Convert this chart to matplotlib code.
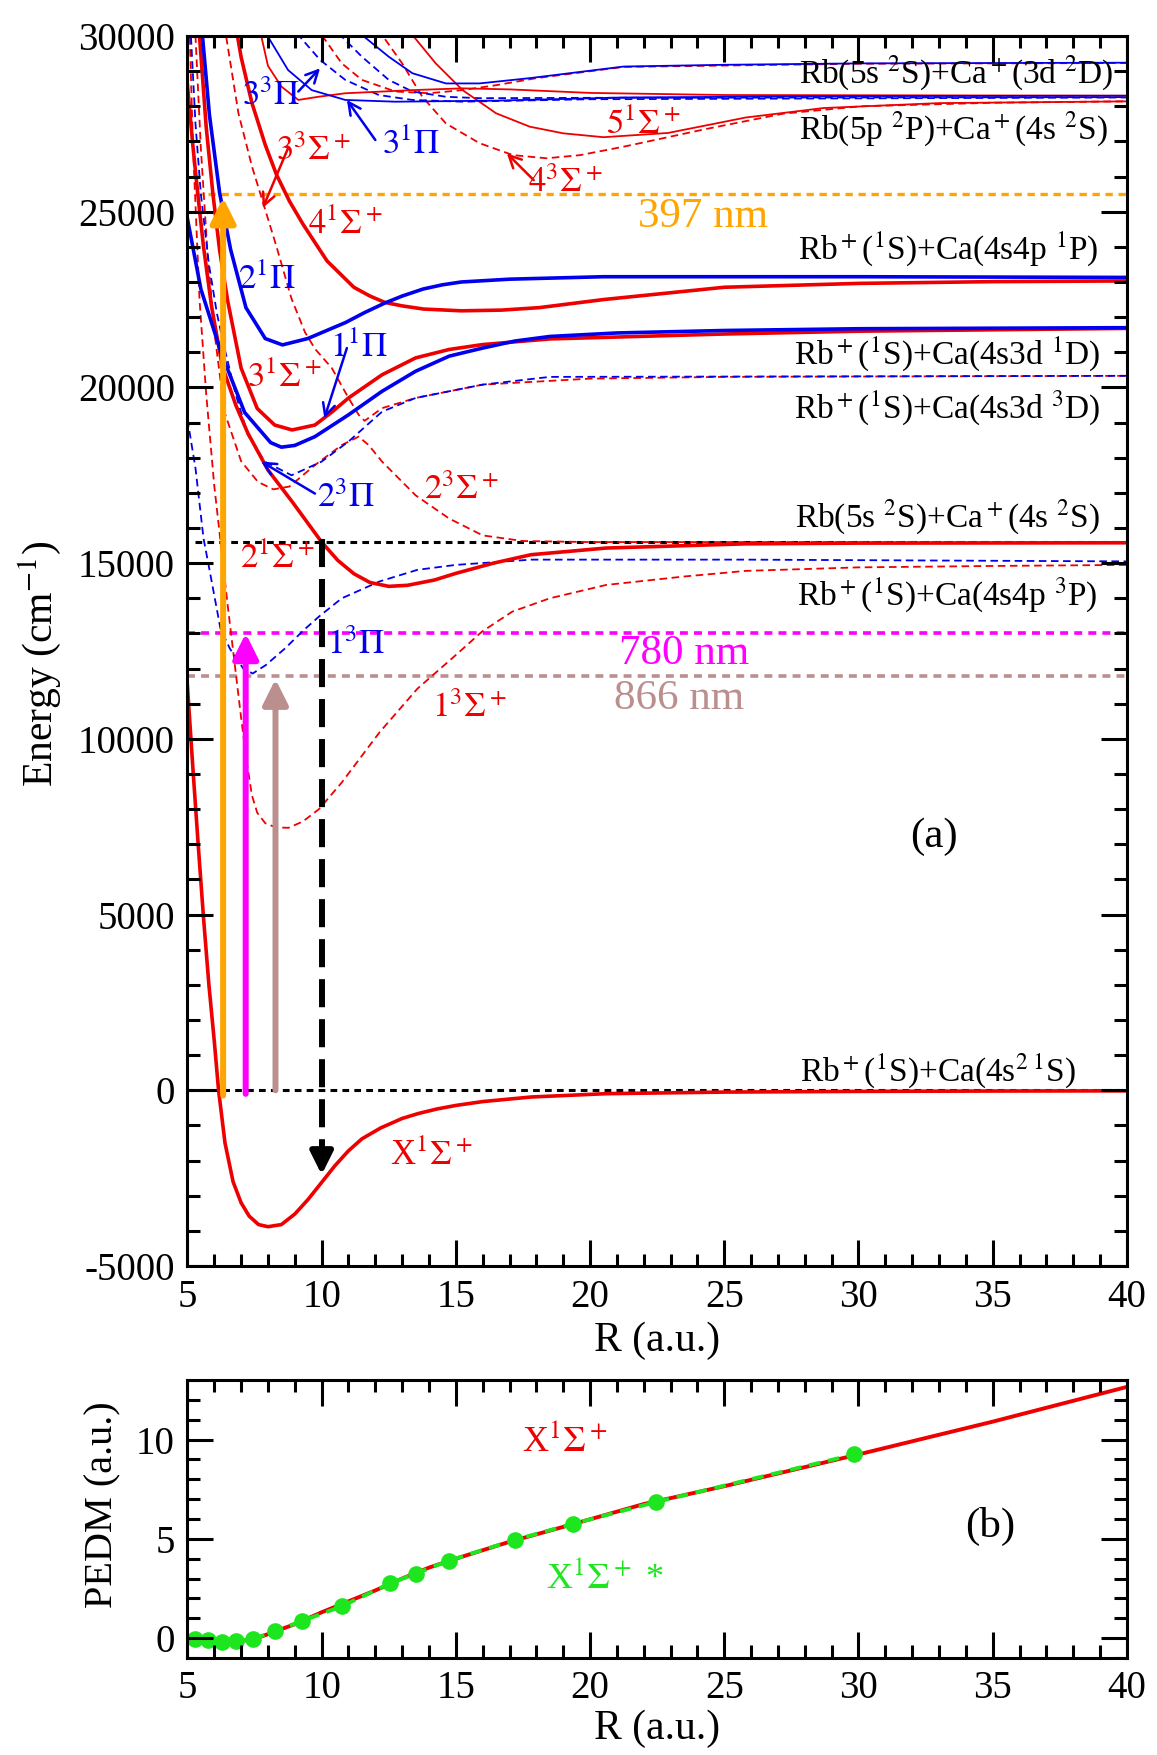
import matplotlib
matplotlib.use('Agg')
from matplotlib import pyplot as plt
from matplotlib.ticker import MultipleLocator

plt.rcParams['font.family'] = ['Liberation Serif', 'DejaVu Serif']
plt.rcParams['mathtext.fontset'] = 'stix'
plt.rcParams['axes.unicode_minus'] = False

# ---- potential energy curves (R in a.u., E in cm-1) ----
# singlet sigma (red solid)
R_X1S = [5.0, 5.2, 5.4, 5.6, 5.8, 6.0, 6.16, 6.4, 6.7, 7.0, 7.3, 7.65, 8.0, 8.5, 9.0, 9.5, 10.0,
         10.5, 11.0, 11.5, 12.2, 13.0, 13.6, 14.3, 15.0, 16.0, 17.8, 20.6, 25.0, 30.0, 35.0, 40.0]
E_X1S = [11500, 9200, 7000, 4900, 3000, 1400, 0, -1500, -2600, -3200, -3580, -3820, -3880, -3820,
         -3520, -3100, -2620, -2140, -1720, -1380, -1070, -800, -660, -530, -430, -320, -190, -95,
         -50, -30, -20, -15]
R_21S = [5.0, 5.2, 5.4, 5.6, 5.9, 6.3, 6.8, 7.25, 8.0, 8.9, 10.0, 10.6, 11.2, 11.8, 12.5, 13.2, 14.2,
         15.0, 16.4, 17.8, 20.6, 25.8, 30.0, 40.0]
E_21S = [28600, 26900, 25400, 24000, 22300, 20600, 19500, 18700, 17650, 16750, 15600, 15080, 14700,
         14450, 14340, 14370, 14520, 14710, 15000, 15240, 15430, 15550, 15570, 15580]
R_31S = [5.35, 5.45, 5.7, 5.95, 6.2, 6.5, 7.0, 7.6, 8.25, 8.9, 9.75, 10.4, 11.0, 12.25, 13.5, 14.75,
         16.0, 18.5, 25.0, 30.0, 40.0]
E_31S = [31500, 30000, 27400, 25500, 23900, 22460, 20550, 19400, 18930, 18790, 18930, 19310, 19700,
         20360, 20840, 21080, 21220, 21380, 21520, 21600, 21680]
R_41S = [6.75, 7.0, 7.4, 7.9, 8.32, 8.8, 9.3, 10.2, 11.2, 11.8, 12.35, 13.0, 13.8, 15.2, 16.7, 18.1,
         20.5, 25.0, 30.0, 35.0, 40.0]
E_41S = [30500, 29400, 28100, 26900, 26050, 25300, 24650, 23600, 22850, 22600, 22420, 22320, 22230,
         22180, 22200, 22270, 22500, 22850, 22960, 23010, 23030]
R_51S = [13.1, 13.38, 14.25, 15.25, 16.5, 17.75, 19.0, 20.5, 22.9, 25.8, 28.7, 33.0, 40.0]
E_51S = [30400, 30030, 29220, 28460, 27800, 27420, 27230, 27120, 27240, 27680, 27950, 28090, 28140]
R_61S = [7.6, 7.75, 8.0, 8.5, 9.13, 9.88, 10.88, 13.4, 15.25, 17.0, 20.0, 25.0, 40.0]
E_61S = [30600, 30000, 29150, 28560, 28180, 28270, 28370, 28460, 28510, 28480, 28380, 28320, 28300]

# triplet sigma (red dashed)
R_13S = [5.05, 5.2, 5.45, 5.7, 6.0, 6.5, 7.0, 7.2, 7.4, 7.6, 7.9, 8.3, 8.77, 9.3, 9.9, 10.75, 12.16,
         13.57, 14.99, 15.97, 17.1, 18.5, 20.6, 23.5, 25.8, 30.0, 35.0, 40.0]
E_13S = [31000, 27000, 22500, 19800, 17200, 13800, 10600, 9400, 8400, 7900, 7600, 7480, 7470, 7650,
         8000, 8760, 10190, 11430, 12380, 13050, 13620, 14000, 14380, 14620, 14780, 14880, 14920, 14950]
R_23S = [5.2, 5.3, 5.5, 5.75, 6.0, 6.38, 7.0, 7.63, 8.2, 8.8, 9.75, 10.75, 11.38, 11.75, 12.25, 13.5,
         14.75, 16.0, 17.5, 20.0, 40.0]
E_23S = [31600, 30000, 26800, 23800, 21600, 19300, 17900, 17310, 17100, 17180, 17790, 18360, 18600,
         18360, 17890, 16930, 16270, 15790, 15630, 15600, 15600]
R_33S = [6.3, 6.44, 6.9, 7.4, 7.8, 8.32, 8.88, 9.38, 9.75, 10.38, 11.0, 11.38, 11.6, 12.25, 13.5,
         16.0, 20.0, 25.0, 40.0]
E_33S = [31000, 30000, 27800, 26300, 25300, 24000, 22520, 21570, 21100, 20550, 19700, 19220, 19050,
         19410, 19700, 20080, 20250, 20300, 20330]
R_43S = [11.9, 12.25, 13.0, 13.75, 14.63, 15.88, 17.13, 18.38, 19.63, 21.25, 24.3, 27.2, 30.1, 35.0, 40.0]
E_43S = [30500, 30030, 29220, 28270, 27510, 26950, 26610, 26520, 26610, 26850, 27350, 27790, 28000,
         28100, 28140]
R_53S = [9.75, 10.0, 10.75, 11.5, 12.75, 14.0, 15.25, 16.5, 18.0, 21.25, 30.0, 40.0]
E_53S = [30300, 30030, 29220, 28750, 28420, 28370, 28460, 28600, 28800, 29120, 29210, 29230]

# singlet pi (blue solid)
R_11P = [5.0, 5.5, 6.25, 7.13, 8.1, 8.5, 9.0, 9.75, 11.0, 12.25, 13.5, 14.75, 16.0, 17.2, 18.5, 21.0,
         25.0, 30.0, 40.0]
E_11P = [24800, 22800, 21000, 19290, 18430, 18300, 18350, 18600, 19220, 19890, 20460, 20890, 21120,
         21320, 21450, 21550, 21620, 21670, 21700]
R_21P = [5.45, 5.56, 5.82, 6.2, 6.61, 7.18, 7.9, 8.54, 9.48, 10.9, 11.6, 12.35, 13.0, 13.78, 14.5,
         15.2, 17.0, 20.5, 30.0, 40.0]
E_21P = [31000, 30000, 27750, 25530, 23920, 22270, 21390, 21210, 21390, 21850, 22130, 22400, 22600,
         22800, 22920, 23000, 23080, 23150, 23150, 23130]
R_31P = [7.8, 8.0, 8.75, 9.63, 10.88, 12.75, 16.5, 21.25, 30.0, 40.0]
E_31P = [30300, 29980, 29030, 28460, 28180, 28130, 28160, 28250, 28290, 28300]
R_41P = [11.25, 11.5, 12.5, 13.38, 14.63, 15.88, 17.75, 21.25, 25.0, 30.0, 40.0]
E_41P = [30300, 30030, 29410, 28940, 28650, 28650, 28800, 29130, 29180, 29220, 29240]

# triplet pi (blue dashed)
R_13P = [5.0, 5.3, 5.6, 5.81, 6.23, 6.58, 7.08, 7.43, 7.92, 8.63, 9.34, 9.9, 10.75, 12.16, 13.57,
         14.99, 17.8, 25.8, 40.0]
E_13P = [19100, 17700, 15700, 14860, 13140, 12570, 12000, 11860, 12100, 12570, 13100, 13480, 14000,
         14480, 14810, 14950, 15100, 15100, 15050]
R_23P = [5.05, 5.13, 5.3, 5.5, 5.8, 6.1, 6.38, 6.8, 7.25, 7.88, 8.88, 10.0, 11.0, 12.25, 13.5, 16.0,
         18.5, 40.0]
E_23P = [31000, 30000, 27500, 25500, 23500, 22100, 21120, 19800, 18650, 17890, 17500, 17890, 18460,
         19310, 19700, 20080, 20300, 20330]
R_33P = [8.9, 9.13, 9.94, 10.88, 12.13, 13.38, 15.25, 20.0, 40.0]
E_33P = [30400, 30030, 29320, 28750, 28320, 28180, 28130, 28200, 28250]
R_43P = [10.45, 10.69, 11.5, 12.5, 13.38, 14.63, 15.88, 20.0, 40.0]
E_43P = [30400, 30030, 29410, 28750, 28420, 28270, 28230, 28240, 28260]

# horizontal reference levels and laser transitions
E_ion = 15600
E_397 = 25500
E_780 = 13000
E_866 = 11800
laser_R = [6.33, 7.17, 8.28]
laser_top = [25400, 13000, 11700]
laser_bottom = [-150, -100, 0]
laser_names = ['397 nm', '780 nm', '866 nm']
laser_colors = ['#ffa500', '#ff00ff', '#bc8f8f']
dump_R = 10.0
dump_tip = -2400

asym_labels = [r'Rb(5s $^2$S)+Ca$^+$(3d $^2$D)', r'Rb(5p $^2$P)+Ca$^+$(4s $^2$S)',
               r'Rb$^+$($^1$S)+Ca(4s4p $^1$P)', r'Rb$^+$($^1$S)+Ca(4s3d $^1$D)',
               r'Rb$^+$($^1$S)+Ca(4s3d $^3$D)', r'Rb(5s $^2$S)+Ca$^+$(4s $^2$S)',
               r'Rb$^+$($^1$S)+Ca(4s4p $^3$P)', r'Rb$^+$($^1$S)+Ca(4s$^{2\ 1}$S)']
asym_E = [28930, 27350, 23960, 20960, 19430, 16310, 14090, 560]
asym_right = [39.5, 39.3, 38.95, 39.0, 39.0, 39.0, 38.9, 38.1]

# ---- permanent electric dipole moment (a.u.) ----
R_pedm = [5.0, 5.5, 6.0, 6.5, 7.0, 7.5, 8.0, 8.5, 9.0, 9.5, 10.0, 11.0, 12.0, 13.0, 14.0, 15.0, 17.0,
          19.0, 22.0, 25.0, 30.0, 35.0, 40.0]
D_pedm = [0.0, -0.08, -0.15, -0.2, -0.15, -0.05, 0.2, 0.45, 0.7, 1.0, 1.3, 1.85, 2.4, 3.0, 3.55, 4.0,
          4.85, 5.6, 6.75, 7.65, 9.25, 10.9, 12.65]
R_star = [5.3, 5.75, 6.3, 6.8, 7.45, 8.25, 9.25, 10.75, 12.55, 13.5, 14.75, 17.2, 19.35, 22.45, 29.85]
D_star = [-0.05, -0.1, -0.22, -0.15, -0.05, 0.35, 0.85, 1.6, 2.75, 3.25, 3.9, 4.95, 5.75, 6.85, 9.25]

RED = '#ee0000'
BLUE = '#0000ee'
GREEN = '#1ee61e'
THICK = 2.6
THIN = 1.3
DASH = (4.2, 2.5)
DOT = (2.2, 1.7)

FIG_W, FIG_H = 1157, 1755
POS_A = [0.162, 0.2786, 0.812, 0.7009]
POS_B = [0.162, 0.0553, 0.812, 0.1584]


def add_inward_ticks(a, pos, xmaj, xmin, ymaj, ymin):
    # tick marks on all four sides, drawn as short lines pointing inwards
    w_px = pos[2] * FIG_W
    h_px = pos[3] * FIG_H
    tx = a.get_xaxis_transform()
    ty = a.get_yaxis_transform()
    for ticks, ln in ((xmaj, 26.0), (xmin, 12.5)):
        f = ln / h_px
        a.vlines(ticks, 0, f, transform=tx, colors='black', lw=2.2, zorder=4)
        a.vlines(ticks, 1 - f, 1, transform=tx, colors='black', lw=2.2, zorder=4)
    for ticks, ln in ((ymaj, 26.0), (ymin, 12.5)):
        f = ln / w_px
        a.hlines(ticks, 0, f, transform=ty, colors='black', lw=2.2, zorder=4)
        a.hlines(ticks, 1 - f, 1, transform=ty, colors='black', lw=2.2, zorder=4)


fig = plt.figure(figsize=(11.57, 17.55), dpi=100)
ax = fig.add_axes(POS_A)
ax2 = fig.add_axes(POS_B)

ax.set_xlim(5, 40)
ax.set_ylim(-5000, 30000)
ax.xaxis.set_major_locator(MultipleLocator(5))
ax.yaxis.set_major_locator(MultipleLocator(5000))
ax2.set_xlim(5, 40)
ax2.set_ylim(-1, 13)
ax2.xaxis.set_major_locator(MultipleLocator(5))
ax2.yaxis.set_major_locator(MultipleLocator(5))
for a in (ax, ax2):
    for s in a.spines.values():
        s.set_linewidth(2.2)
        s.set_zorder(5)
    a.tick_params(axis='both', which='major', direction='in', length=0, labelsize=28, pad=9)

x_major = list(range(5, 41, 5))
x_minor = [v for v in range(6, 40) if v % 5 != 0]
add_inward_ticks(ax, POS_A, x_major, x_minor, list(range(-5000, 30001, 5000)),
                 [v for v in range(-4000, 30000, 1000) if v % 5000 != 0])
add_inward_ticks(ax2, POS_B, x_major, x_minor, [0, 5, 10],
                 [v for v in range(-1, 14) if v % 5 != 0])

# reference levels (dotted)
ax.plot([5, 40], [0, 0], color='black', lw=2.2, dashes=DOT)
ax.plot([5.3, 40], [E_ion, E_ion], color='black', lw=2.2, dashes=DOT)
ax.plot([5.3, 40], [E_397, E_397], color=laser_colors[0], lw=2.4, dashes=DOT)
ax.plot([5, 40], [E_780, E_780], color=laser_colors[1], lw=2.6, dashes=DOT)
ax.plot([5, 40], [E_866, E_866], color=laser_colors[2], lw=2.6, dashes=DOT)

# triplet curves (dashed)
for rr, ee in [(R_13S, E_13S), (R_23S, E_23S), (R_33S, E_33S), (R_43S, E_43S), (R_53S, E_53S)]:
    ax.plot(rr, ee, color=RED, lw=THIN, dashes=DASH)
for rr, ee in [(R_13P, E_13P), (R_23P, E_23P), (R_33P, E_33P), (R_43P, E_43P)]:
    ax.plot(rr, ee, color=BLUE, lw=THIN, dashes=DASH)

# singlet curves (solid)
ax.plot(R_61S, E_61S, color=RED, lw=THIN)
ax.plot(R_51S, E_51S, color=RED, lw=THIN)
ax.plot(R_31P, E_31P, color=BLUE, lw=THIN)
ax.plot(R_41P, E_41P, color=BLUE, lw=THIN)
for rr, ee in [(R_X1S, E_X1S), (R_21S, E_21S), (R_31S, E_31S), (R_41S, E_41S)]:
    ax.plot(rr, ee, color=RED, lw=THICK)
for rr, ee in [(R_11P, E_11P), (R_21P, E_21P)]:
    ax.plot(rr, ee, color=BLUE, lw=THICK)

# laser arrows
for r, e0, e1, c in zip(laser_R, laser_bottom, laser_top, laser_colors):
    ax.annotate('', xy=(r, e1), xytext=(r, e0),
                arrowprops=dict(arrowstyle='-|>', color=c, lw=4.3, mutation_scale=38,
                                shrinkA=0, shrinkB=0))
# dumping arrow (dashed)
ax.plot([dump_R, dump_R], [E_ion + 100, dump_tip + 700], color='black', lw=4.3,
        dashes=(4.7, 2.0), solid_capstyle='butt')
ax.annotate('', xy=(dump_R, dump_tip), xytext=(dump_R, dump_tip + 750),
            arrowprops=dict(arrowstyle='-|>', color='black', lw=4.3, mutation_scale=34,
                            shrinkA=0, shrinkB=0))

# laser wavelength labels
ax.text(24.2, 24850, laser_names[0], color=laser_colors[0], fontsize=31, ha='center', va='center')
ax.text(23.5, 12430, laser_names[1], color=laser_colors[1], fontsize=31, ha='center', va='center')
ax.text(23.3, 11140, laser_names[2], color=laser_colors[2], fontsize=31, ha='center', va='center')

# state labels
state_kw = dict(fontsize=25, ha='center', va='center')
ax.text(8.1, 28270, r'$3^3\Pi$', color=BLUE, **state_kw)
ax.text(13.35, 26900, r'$3^1\Pi$', color=BLUE, **state_kw)
ax.text(7.97, 23050, r'$2^1\Pi$', color=BLUE, **state_kw)
ax.text(11.4, 21120, r'$1^1\Pi$', color=BLUE, **state_kw)
ax.text(10.9, 16840, r'$2^3\Pi$', color=BLUE, **state_kw)
ax.text(11.3, 12670, r'$1^3\Pi$', color=BLUE, **state_kw)
ax.text(9.7, 26700, r'$3^3\Sigma^+$', color=RED, **state_kw)
ax.text(10.9, 24620, r'$4^1\Sigma^+$', color=RED, **state_kw)
ax.text(8.6, 20270, r'$3^1\Sigma^+$', color=RED, **state_kw)
ax.text(15.2, 17080, r'$2^3\Sigma^+$', color=RED, **state_kw)
ax.text(8.35, 15100, r'$2^1\Sigma^+$', color=RED, **state_kw)
ax.text(15.5, 10860, r'$1^3\Sigma^+$', color=RED, **state_kw)
ax.text(14.07, -1860, r'X$^1\Sigma^+$', color=RED, **state_kw)
ax.text(22.0, 27450, r'$5^1\Sigma^+$', color=RED, **state_kw)
ax.text(19.1, 25800, r'$4^3\Sigma^+$', color=RED, **state_kw)

# pointer arrows for the labels
pointer_kw = dict(arrowstyle='->', lw=1.8, mutation_scale=22, shrinkA=0, shrinkB=0)
ax.annotate('', xy=(9.94, 29080), xytext=(9.13, 28420), arrowprops=dict(color=BLUE, **pointer_kw))
ax.annotate('', xy=(10.94, 28180), xytext=(12.0, 27040), arrowprops=dict(color=BLUE, **pointer_kw))
ax.annotate('', xy=(7.81, 25110), xytext=(8.75, 26810), arrowprops=dict(color=RED, **pointer_kw))
ax.annotate('', xy=(10.1, 19120), xytext=(10.94, 21120), arrowprops=dict(color=BLUE, **pointer_kw))
ax.annotate('', xy=(7.75, 17890), xytext=(9.75, 16980), arrowprops=dict(color=BLUE, **pointer_kw))
ax.annotate('', xy=(16.9, 26660), xytext=(17.9, 25900), arrowprops=dict(color=RED, **pointer_kw))

# asymptote labels
for txt, e, r in zip(asym_labels, asym_E, asym_right):
    ax.text(r, e, txt, fontsize=24, ha='right', va='center', color='black')

ax.text(32.8, 7210, '(a)', fontsize=31, ha='center', va='center')
ax.set_xlabel('R (a.u.)', fontsize=30)
ax.set_ylabel(r'Energy (cm$^{-1}$)', fontsize=30)
ax.xaxis.set_label_coords(0.5, -0.045)
ax.yaxis.set_label_coords(-0.132, 0.49)

# ---- panel (b) ----
ax2.plot(R_pedm, D_pedm, color=RED, lw=2.8)
ax2.plot(R_star, D_star, color=GREEN, lw=2.8, dashes=(3.0, 2.0), marker='o', ms=12,
         markeredgewidth=0)
ax2.text(19.05, 9.9, r'X$^1\Sigma^+$', color=RED, fontsize=26, ha='center', va='center')
ax2.text(20.55, 3.0, r'X$^1\Sigma^+$ *', color=GREEN, fontsize=26, ha='center', va='center')
ax2.text(34.9, 5.6, '(b)', fontsize=31, ha='center', va='center')
ax2.set_xlabel('R (a.u.)', fontsize=30)
ax2.set_ylabel('PEDM (a.u.)', fontsize=29)
ax2.xaxis.set_label_coords(0.5, -0.187)
ax2.yaxis.set_label_coords(-0.07, 0.55)

fig.savefig('out.png', dpi=100)
